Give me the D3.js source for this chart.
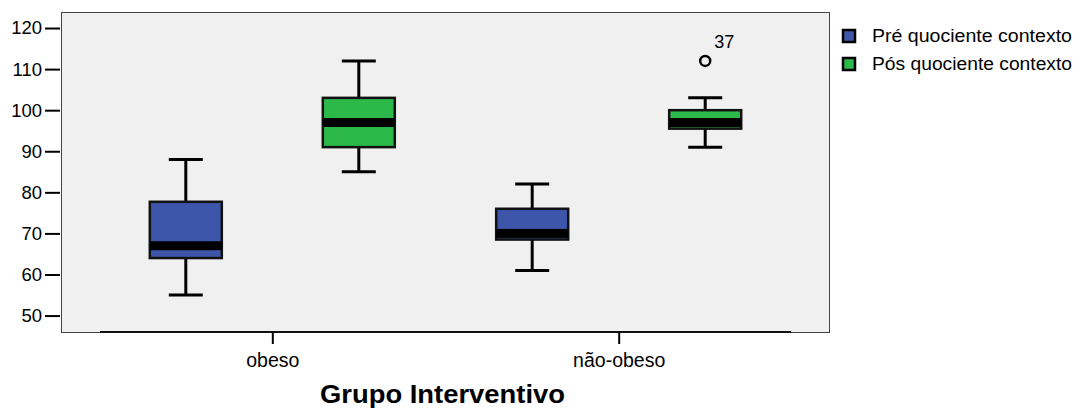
<!DOCTYPE html>
<html>
<head>
<meta charset="utf-8">
<script src="https://cdn.jsdelivr.net/npm/d3@7"></script>
<style>
body { margin: 0; background: #fff; }
text { font-family: "Liberation Sans", Arial, sans-serif; fill: #000; }
</style>
</head>
<body>
<div id="chart"></div>
<script>
// box plot: quociente contexto pre / pos, by group
var groups = ["obeso", "não-obeso"];
var series = ["Pré quociente contexto", "Pós quociente contexto"];
var colors = ["#3d56aa", "#2db84a"];
// [min, q1, median, q3, max] for each group, each series
var preStats = [[55, 64, 67, 77.7, 88], [61, 68.5, 70, 76, 82]];
var posStats = [[85, 91, 97, 103, 112], [91, 95.5, 97, 100, 103]];
var outliers = [{group: 1, series: 1, value: 112, label: "37"}];
var yTicks = [50, 60, 70, 80, 90, 100, 110, 120];

var W = 1080, H = 408;
var plot = {left: 61, top: 12, right: 830, bottom: 332};

var svg = d3.select("#chart").append("svg")
  .attr("width", W)
  .attr("height", H);

var x = d3.scalePoint()
  .domain(groups)
  .range([plot.left, plot.right])
  .padding(0.61);

var offset = d3.scalePoint()
  .domain([0, 1])
  .range([-86.5, 86.5]);

var y = d3.scaleLinear()
  .domain([46, 123.9])
  .range([plot.bottom, plot.top]);

// background frame
svg.append("rect")
  .attr("x", plot.left + 0.5)
  .attr("y", plot.top + 0.5)
  .attr("width", plot.right - plot.left - 1)
  .attr("height", plot.bottom - plot.top)
  .attr("fill", "#f0f0f0")
  .attr("stroke", "#444")
  .attr("stroke-width", 1);

// bottom axis line (black part)
svg.append("line")
  .attr("x1", 100).attr("x2", 791)
  .attr("y1", plot.bottom).attr("y2", plot.bottom)
  .attr("stroke", "#111").attr("stroke-width", 2);

// y axis
var yAxis = d3.axisLeft(y).tickValues(yTicks).tickSize(15).tickPadding(3);
var gy = svg.append("g")
  .attr("transform", "translate(" + (plot.left - 1) + ",0)")
  .call(yAxis);
gy.select(".domain").remove();
gy.selectAll(".tick line").attr("stroke", "#000").attr("stroke-width", 2);
gy.selectAll(".tick text")
  .style("font-size", "18.5px")
  .style("font-family", "Liberation Sans, Arial, sans-serif")
  .attr("fill", "#000");

// x axis
var xAxis = d3.axisBottom(x).tickSize(12).tickPadding(9);
var gx = svg.append("g")
  .attr("transform", "translate(0," + plot.bottom + ")")
  .call(xAxis);
gx.select(".domain").remove();
gx.selectAll(".tick line").attr("stroke", "#000").attr("stroke-width", 2);
gx.selectAll(".tick text")
  .style("font-size", "19.5px")
  .style("font-family", "Liberation Sans, Arial, sans-serif")
  .attr("fill", "#000");

svg.append("text")
  .attr("x", 442.5)
  .attr("y", 403)
  .attr("text-anchor", "middle")
  .style("font-size", "26px")
  .style("font-weight", "bold")
  .attr("textLength", 245)
  .attr("lengthAdjust", "spacingAndGlyphs")
  .text("Grupo Interventivo");

// boxes
var boxW = 72, capW = 34, medH = 9;
var boxes = [];
groups.forEach(function(g, gi) {
  boxes.push({group: gi, series: 0, s: preStats[gi]});
  boxes.push({group: gi, series: 1, s: posStats[gi]});
});

var bg = svg.selectAll(".box")
  .data(boxes)
  .enter().append("g")
  .attr("class", "box")
  .attr("transform", function(d) {
    return "translate(" + (x(groups[d.group]) + offset(d.series)) + ",0)";
  });

// whiskers
bg.append("line")
  .attr("x1", 0).attr("x2", 0)
  .attr("y1", function(d) { return y(d.s[4]); })
  .attr("y2", function(d) { return y(d.s[0]); })
  .attr("stroke", "#000").attr("stroke-width", 3);
bg.selectAll(".cap")
  .data(function(d) { return [d.s[0], d.s[4]]; })
  .enter().append("line")
  .attr("x1", -capW / 2).attr("x2", capW / 2)
  .attr("y1", function(v) { return y(v); })
  .attr("y2", function(v) { return y(v); })
  .attr("stroke", "#000").attr("stroke-width", 3);

bg.append("rect")
  .attr("x", -boxW / 2)
  .attr("width", boxW)
  .attr("y", function(d) { return y(d.s[3]); })
  .attr("height", function(d) { return y(d.s[1]) - y(d.s[3]); })
  .attr("fill", function(d) { return colors[d.series]; })
  .attr("stroke", "#111").attr("stroke-width", 2.5);

bg.append("rect")
  .attr("x", -boxW / 2)
  .attr("width", boxW)
  .attr("y", function(d) { return Math.max(y(d.s[2]) - medH / 2, y(d.s[3])); })
  .attr("height", function(d) {
    var top = Math.max(y(d.s[2]) - medH / 2, y(d.s[3]));
    var bot = Math.min(y(d.s[2]) + medH / 2, y(d.s[1]));
    return bot - top;
  })
  .attr("fill", "#000");

// outliers
outliers.forEach(function(o) {
  var cx = x(groups[o.group]) + offset(o.series);
  svg.append("circle")
    .attr("cx", cx).attr("cy", y(o.value)).attr("r", 5)
    .attr("fill", "none").attr("stroke", "#000").attr("stroke-width", 2.5);
  svg.append("text")
    .attr("x", cx + 9).attr("y", y(o.value) - 13)
    .style("font-size", "18px")
    .text(o.label);
});

// legend
var lg = svg.selectAll(".leg")
  .data(series)
  .enter().append("g")
  .attr("class", "leg")
  .attr("transform", function(d, i) { return "translate(842," + (29 + i * 28) + ")"; });
lg.append("rect")
  .attr("x", 1).attr("y", 1)
  .attr("width", 12).attr("height", 12)
  .attr("fill", function(d, i) { return colors[i]; })
  .attr("stroke", "#000").attr("stroke-width", 2.5);
lg.append("text")
  .attr("x", 30).attr("y", 13)
  .style("font-size", "18px")
  .attr("textLength", 200)
  .attr("lengthAdjust", "spacingAndGlyphs")
  .text(function(d) { return d; });
</script>
</body>
</html>
